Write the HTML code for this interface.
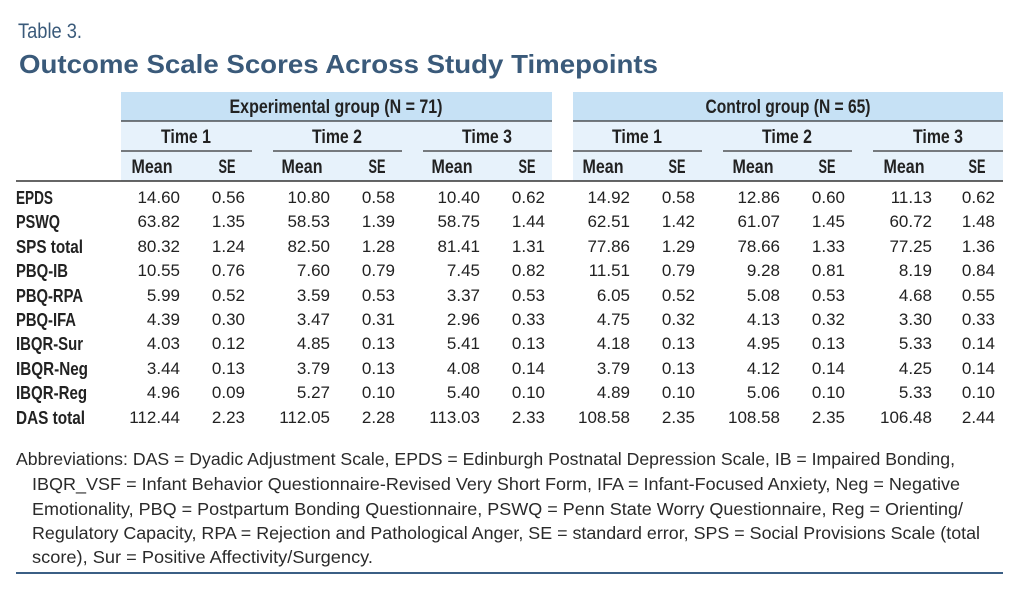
<!DOCTYPE html>
<html><head><meta charset="utf-8"><style>
html,body{margin:0;padding:0;background:#fff;}
svg{display:block;}
text{font-family:"Liberation Sans",sans-serif;fill:#222;}
.n{font-size:17px;text-anchor:end;}
.l{font-size:18px;font-weight:bold;}
.h{font-size:19px;font-weight:bold;text-anchor:middle;}
.f{font-size:17.5px;fill:#2a2a2a;}
</style></head><body>
<svg width="1024" height="589" viewBox="0 0 1024 589" xmlns="http://www.w3.org/2000/svg">
<rect width="1024" height="589" fill="#fff"/>
<text x="18" y="38" style="font-size:21px;fill:#3a5a7a" textLength="64" lengthAdjust="spacingAndGlyphs">Table 3.</text>
<text x="19" y="73" style="font-size:26px;font-weight:bold;fill:#3a5a7a" textLength="639" lengthAdjust="spacingAndGlyphs">Outcome Scale Scores Across Study Timepoints</text>
<rect x="121" y="92" width="431" height="29" fill="#c6e1f5"/>
<rect x="121" y="121" width="431" height="60" fill="#e7f2fb"/>
<rect x="573" y="92" width="430" height="29" fill="#c6e1f5"/>
<rect x="573" y="121" width="430" height="60" fill="#e7f2fb"/>
<g stroke="#333" stroke-width="1.3">
<line x1="121" y1="121" x2="552" y2="121"/>
<line x1="573" y1="121" x2="1003" y2="121"/>
<line x1="121" y1="151" x2="252" y2="151"/>
<line x1="273" y1="151" x2="402" y2="151"/>
<line x1="423" y1="151" x2="552" y2="151"/>
<line x1="573" y1="151" x2="702" y2="151"/>
<line x1="723" y1="151" x2="852" y2="151"/>
<line x1="873" y1="151" x2="1003" y2="151"/>
</g>
<line x1="16" y1="181" x2="1003" y2="181" stroke="#333" stroke-width="1.6"/>
<text class="h" x="336" y="113" textLength="213" lengthAdjust="spacingAndGlyphs">Experimental group (N = 71)</text>
<text class="h" x="788" y="113" textLength="165" lengthAdjust="spacingAndGlyphs">Control group (N = 65)</text>
<text class="h" x="186" y="143" textLength="50" lengthAdjust="spacingAndGlyphs">Time 1</text>
<text class="h" x="337" y="143" textLength="50" lengthAdjust="spacingAndGlyphs">Time 2</text>
<text class="h" x="487" y="143" textLength="50" lengthAdjust="spacingAndGlyphs">Time 3</text>
<text class="h" x="637" y="143" textLength="50" lengthAdjust="spacingAndGlyphs">Time 1</text>
<text class="h" x="787" y="143" textLength="50" lengthAdjust="spacingAndGlyphs">Time 2</text>
<text class="h" x="938" y="143" textLength="50" lengthAdjust="spacingAndGlyphs">Time 3</text>
<text class="h" x="152" y="173" textLength="41" lengthAdjust="spacingAndGlyphs">Mean</text><text class="h" x="227" y="173" textLength="17" lengthAdjust="spacingAndGlyphs">SE</text>
<text class="h" x="302" y="173" textLength="41" lengthAdjust="spacingAndGlyphs">Mean</text><text class="h" x="377" y="173" textLength="17" lengthAdjust="spacingAndGlyphs">SE</text>
<text class="h" x="452" y="173" textLength="41" lengthAdjust="spacingAndGlyphs">Mean</text><text class="h" x="527" y="173" textLength="17" lengthAdjust="spacingAndGlyphs">SE</text>
<text class="h" x="603" y="173" textLength="41" lengthAdjust="spacingAndGlyphs">Mean</text><text class="h" x="677" y="173" textLength="17" lengthAdjust="spacingAndGlyphs">SE</text>
<text class="h" x="753" y="173" textLength="41" lengthAdjust="spacingAndGlyphs">Mean</text><text class="h" x="827" y="173" textLength="17" lengthAdjust="spacingAndGlyphs">SE</text>
<text class="h" x="904" y="173" textLength="41" lengthAdjust="spacingAndGlyphs">Mean</text><text class="h" x="977" y="173" textLength="17" lengthAdjust="spacingAndGlyphs">SE</text>
<text class="l" x="16" y="204" textLength="37" lengthAdjust="spacingAndGlyphs">EPDS</text>
<text class="l" x="16" y="228" textLength="44" lengthAdjust="spacingAndGlyphs">PSWQ</text>
<text class="l" x="16" y="253" textLength="67" lengthAdjust="spacingAndGlyphs">SPS total</text>
<text class="l" x="16" y="277" textLength="52" lengthAdjust="spacingAndGlyphs">PBQ-IB</text>
<text class="l" x="16" y="302" textLength="67" lengthAdjust="spacingAndGlyphs">PBQ-RPA</text>
<text class="l" x="16" y="326" textLength="60" lengthAdjust="spacingAndGlyphs">PBQ-IFA</text>
<text class="l" x="16" y="350" textLength="67" lengthAdjust="spacingAndGlyphs">IBQR-Sur</text>
<text class="l" x="16" y="375" textLength="72" lengthAdjust="spacingAndGlyphs">IBQR-Neg</text>
<text class="l" x="16" y="399" textLength="71" lengthAdjust="spacingAndGlyphs">IBQR-Reg</text>
<text class="l" x="16" y="424" textLength="69" lengthAdjust="spacingAndGlyphs">DAS total</text>
<g>
<text class="n" x="180" y="203">14.60</text><text class="n" x="245" y="203">0.56</text><text class="n" x="330" y="203">10.80</text><text class="n" x="395" y="203">0.58</text><text class="n" x="480" y="203">10.40</text><text class="n" x="545" y="203">0.62</text><text class="n" x="630" y="203">14.92</text><text class="n" x="695" y="203">0.58</text><text class="n" x="780" y="203">12.86</text><text class="n" x="845" y="203">0.60</text><text class="n" x="932" y="203">11.13</text><text class="n" x="995" y="203">0.62</text>
<text class="n" x="180" y="227">63.82</text><text class="n" x="245" y="227">1.35</text><text class="n" x="330" y="227">58.53</text><text class="n" x="395" y="227">1.39</text><text class="n" x="480" y="227">58.75</text><text class="n" x="545" y="227">1.44</text><text class="n" x="630" y="227">62.51</text><text class="n" x="695" y="227">1.42</text><text class="n" x="780" y="227">61.07</text><text class="n" x="845" y="227">1.45</text><text class="n" x="932" y="227">60.72</text><text class="n" x="995" y="227">1.48</text>
<text class="n" x="180" y="252">80.32</text><text class="n" x="245" y="252">1.24</text><text class="n" x="330" y="252">82.50</text><text class="n" x="395" y="252">1.28</text><text class="n" x="480" y="252">81.41</text><text class="n" x="545" y="252">1.31</text><text class="n" x="630" y="252">77.86</text><text class="n" x="695" y="252">1.29</text><text class="n" x="780" y="252">78.66</text><text class="n" x="845" y="252">1.33</text><text class="n" x="932" y="252">77.25</text><text class="n" x="995" y="252">1.36</text>
<text class="n" x="180" y="276">10.55</text><text class="n" x="245" y="276">0.76</text><text class="n" x="330" y="276">7.60</text><text class="n" x="395" y="276">0.79</text><text class="n" x="480" y="276">7.45</text><text class="n" x="545" y="276">0.82</text><text class="n" x="630" y="276">11.51</text><text class="n" x="695" y="276">0.79</text><text class="n" x="780" y="276">9.28</text><text class="n" x="845" y="276">0.81</text><text class="n" x="932" y="276">8.19</text><text class="n" x="995" y="276">0.84</text>
<text class="n" x="180" y="301">5.99</text><text class="n" x="245" y="301">0.52</text><text class="n" x="330" y="301">3.59</text><text class="n" x="395" y="301">0.53</text><text class="n" x="480" y="301">3.37</text><text class="n" x="545" y="301">0.53</text><text class="n" x="630" y="301">6.05</text><text class="n" x="695" y="301">0.52</text><text class="n" x="780" y="301">5.08</text><text class="n" x="845" y="301">0.53</text><text class="n" x="932" y="301">4.68</text><text class="n" x="995" y="301">0.55</text>
<text class="n" x="180" y="325">4.39</text><text class="n" x="245" y="325">0.30</text><text class="n" x="330" y="325">3.47</text><text class="n" x="395" y="325">0.31</text><text class="n" x="480" y="325">2.96</text><text class="n" x="545" y="325">0.33</text><text class="n" x="630" y="325">4.75</text><text class="n" x="695" y="325">0.32</text><text class="n" x="780" y="325">4.13</text><text class="n" x="845" y="325">0.32</text><text class="n" x="932" y="325">3.30</text><text class="n" x="995" y="325">0.33</text>
<text class="n" x="180" y="349">4.03</text><text class="n" x="245" y="349">0.12</text><text class="n" x="330" y="349">4.85</text><text class="n" x="395" y="349">0.13</text><text class="n" x="480" y="349">5.41</text><text class="n" x="545" y="349">0.13</text><text class="n" x="630" y="349">4.18</text><text class="n" x="695" y="349">0.13</text><text class="n" x="780" y="349">4.95</text><text class="n" x="845" y="349">0.13</text><text class="n" x="932" y="349">5.33</text><text class="n" x="995" y="349">0.14</text>
<text class="n" x="180" y="374">3.44</text><text class="n" x="245" y="374">0.13</text><text class="n" x="330" y="374">3.79</text><text class="n" x="395" y="374">0.13</text><text class="n" x="480" y="374">4.08</text><text class="n" x="545" y="374">0.14</text><text class="n" x="630" y="374">3.79</text><text class="n" x="695" y="374">0.13</text><text class="n" x="780" y="374">4.12</text><text class="n" x="845" y="374">0.14</text><text class="n" x="932" y="374">4.25</text><text class="n" x="995" y="374">0.14</text>
<text class="n" x="180" y="398">4.96</text><text class="n" x="245" y="398">0.09</text><text class="n" x="330" y="398">5.27</text><text class="n" x="395" y="398">0.10</text><text class="n" x="480" y="398">5.40</text><text class="n" x="545" y="398">0.10</text><text class="n" x="630" y="398">4.89</text><text class="n" x="695" y="398">0.10</text><text class="n" x="780" y="398">5.06</text><text class="n" x="845" y="398">0.10</text><text class="n" x="932" y="398">5.33</text><text class="n" x="995" y="398">0.10</text>
<text class="n" x="180" y="423">112.44</text><text class="n" x="245" y="423">2.23</text><text class="n" x="330" y="423">112.05</text><text class="n" x="395" y="423">2.28</text><text class="n" x="480" y="423">113.03</text><text class="n" x="545" y="423">2.33</text><text class="n" x="630" y="423">108.58</text><text class="n" x="695" y="423">2.35</text><text class="n" x="780" y="423">108.58</text><text class="n" x="845" y="423">2.35</text><text class="n" x="932" y="423">106.48</text><text class="n" x="995" y="423">2.44</text>
</g>
<text class="f" x="16" y="465" textLength="939" lengthAdjust="spacingAndGlyphs">Abbreviations: DAS = Dyadic Adjustment Scale, EPDS = Edinburgh Postnatal Depression Scale, IB = Impaired Bonding,</text>
<text class="f" x="32" y="490" textLength="928" lengthAdjust="spacingAndGlyphs">IBQR_VSF = Infant Behavior Questionnaire-Revised Very Short Form, IFA = Infant-Focused Anxiety, Neg = Negative</text>
<text class="f" x="32" y="515" textLength="931" lengthAdjust="spacingAndGlyphs">Emotionality, PBQ = Postpartum Bonding Questionnaire, PSWQ = Penn State Worry Questionnaire, Reg = Orienting/</text>
<text class="f" x="32" y="539" textLength="948" lengthAdjust="spacingAndGlyphs">Regulatory Capacity, RPA = Rejection and Pathological Anger, SE = standard error, SPS = Social Provisions Scale (total</text>
<text class="f" x="32" y="563" textLength="341" lengthAdjust="spacingAndGlyphs">score), Sur = Positive Affectivity/Surgency.</text>
<line x1="16" y1="573" x2="1003" y2="573" stroke="#3b5f85" stroke-width="2"/>
</svg>
</body></html>
